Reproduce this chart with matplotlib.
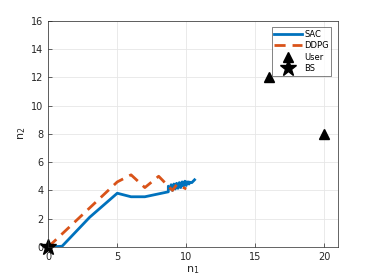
import matplotlib
matplotlib.use("Agg")
import matplotlib.pyplot as plt

sac_x = [0, 1, 3, 5, 6, 7, 8.7, 8.7, 9.0, 8.9, 9.2, 9.1, 9.4, 9.3, 9.6, 9.5, 9.8, 9.7, 10.0, 9.9, 10.2, 10.1, 10.4, 10.6]
sac_y = [0, 0.05, 2.1, 3.8, 3.55, 3.55, 3.9, 4.3, 4.0, 4.4, 4.1, 4.45, 4.15, 4.5, 4.2, 4.55, 4.3, 4.6, 4.35, 4.65, 4.45, 4.6, 4.55, 4.75]

ddpg_x = [0, 5, 6, 7, 8, 9, 9.3, 9.6, 10.0]
ddpg_y = [0, 4.6, 5.1, 4.2, 5.0, 4.0, 4.4, 4.3, 4.1]

user_x = [16, 20]
user_y = [12, 8]
bs_x = [0]
bs_y = [0]

fig = plt.figure(figsize=(3.74, 2.8), dpi=100)
ax = fig.add_axes([0.129, 0.118, 0.775, 0.808])

ax.plot(sac_x, sac_y, color='#0072BD', lw=2, label='SAC')
ax.plot(ddpg_x, ddpg_y, color='#D95319', lw=2, ls=(0, (4, 2.5)), label='DDPG')
ax.plot(user_x, user_y, '^', color='k', ms=7, ls='none', label='User')
ax.plot(bs_x, bs_y, '*', color='k', ms=12, ls='none', label='BS', clip_on=False)

ax.set_xlim(0, 21)
ax.set_ylim(0, 16)
ax.set_xticks([0, 5, 10, 15, 20])
ax.set_yticks(range(0, 17, 2))
ax.grid(True, color='#e6e6e6', lw=0.6)
ax.set_axisbelow(True)
ax.tick_params(direction='in', labelsize=7, colors='#262626', length=3, width=0.5)
for s in ax.spines.values():
    s.set_color('#262626')
    s.set_linewidth(0.5)
ax.set_xlabel('n$_1$', fontsize=8, color='#262626', labelpad=2)
ax.set_ylabel('n$_2$', fontsize=8, color='#262626', labelpad=2)

leg = ax.legend(loc='upper right', fontsize=6, frameon=True, fancybox=False,
                edgecolor='#262626', handlelength=3.3, borderpad=0.3,
                labelspacing=0.3, handletextpad=0.3, borderaxespad=0,
                bbox_to_anchor=(0.976, 0.972))
leg.get_frame().set_linewidth(0.5)

fig.savefig("out.png", dpi=100)
